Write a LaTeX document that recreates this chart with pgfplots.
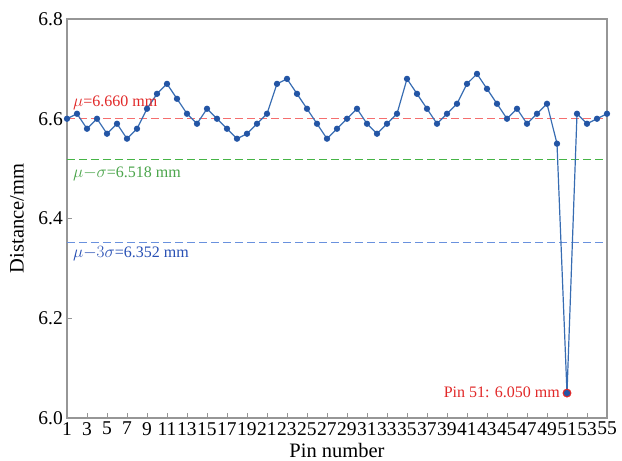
\documentclass[border=0pt]{standalone}
\usepackage{fontspec}
\setmainfont{Liberation Serif}
\usepackage{pgfplots}
\pgfplotsset{compat=1.18}
\definecolor{lineblue}{RGB}{55,108,178}
\definecolor{markblue}{RGB}{35,85,165}
\definecolor{dashred}{RGB}{245,110,110}
\definecolor{dashgreen}{RGB}{70,180,70}
\definecolor{dashblue}{RGB}{105,145,222}
\definecolor{txtred}{RGB}{225,40,40}
\definecolor{txtgreen}{RGB}{75,165,75}
\definecolor{txtblue}{RGB}{40,80,180}
\definecolor{framegray}{RGB}{150,150,150}
\begin{document}
\begin{tikzpicture}
\path[use as bounding box] (-67bp,-43bp) rectangle (555bp,418bp);
\begin{axis}[
  at={(0,0)}, anchor=south west,
  scale only axis, width=540bp, height=399bp,
  xmin=1, xmax=55, ymin=6.0, ymax=6.8,
  xtick={1,3,...,55}, ytick={6.0,6.2,6.4,6.6,6.8},
  tick align=inside, xtick pos=bottom, ytick pos=left,
  major tick length=5bp,
  axis line style={draw=framegray, line width=1.1bp},
  every tick/.style={framegray, line width=0.8bp},
  /pgf/number format/assume math mode=true,
  ticklabel style={font=\fontsize{19.5bp}{21bp}\selectfont, inner sep=0pt},
  xticklabel style={yshift=-4bp},
  yticklabel style={xshift=-4bp, /pgf/number format/.cd, fixed, fixed zerofill, precision=1},
  xlabel={Pin number}, ylabel={Distance/mm},
  label style={font=\fontsize{20.5bp}{22bp}\selectfont},
  xlabel style={at={(axis description cs:0.5,0)}, anchor=base, yshift=-39bp},
  ylabel style={at={(axis description cs:0,0.5)}, anchor=center, yshift=50bp},
  clip=false,
]
\addplot[dashred, line width=1.4bp, dash pattern=on 8bp off 4bp] coordinates {(1,6.6) (55,6.6)};
\addplot[dashgreen, line width=1.5bp, dash pattern=on 8bp off 4bp] coordinates {(1,6.518) (55,6.518)};
\addplot[dashblue, line width=1.4bp, dash pattern=on 8bp off 4bp] coordinates {(1,6.352) (55,6.352)};
\addplot[only marks, mark=*, mark size=4.2bp, mark options={fill=txtred, draw=txtred}] coordinates {(51,6.05)};
\addplot[lineblue, line width=1.2bp, mark=*, mark size=2.5bp, mark options={fill=markblue, draw=markblue}] table {
x y
1 6.60
2 6.61
3 6.58
4 6.60
5 6.57
6 6.59
7 6.56
8 6.58
9 6.62
10 6.65
11 6.67
12 6.64
13 6.61
14 6.59
15 6.62
16 6.60
17 6.58
18 6.56
19 6.57
20 6.59
21 6.61
22 6.67
23 6.68
24 6.65
25 6.62
26 6.59
27 6.56
28 6.58
29 6.60
30 6.62
31 6.59
32 6.57
33 6.59
34 6.61
35 6.68
36 6.65
37 6.62
38 6.59
39 6.61
40 6.63
41 6.67
42 6.69
43 6.66
44 6.63
45 6.60
46 6.62
47 6.59
48 6.61
49 6.63
50 6.55
51 6.05
52 6.61
53 6.59
54 6.60
55 6.61
};
\node[anchor=base west, text=txtred, font=\fontsize{16bp}{18bp}\selectfont, inner sep=0pt] at (axis cs:1.6,6.624) {$\mu$=6.660 mm};
\node[anchor=base west, text=txtgreen, font=\fontsize{16bp}{18bp}\selectfont, inner sep=0pt] at (axis cs:1.6,6.483) {$\mu{-}\sigma$=6.518 mm};
\node[anchor=base west, text=txtblue, font=\fontsize{16bp}{18bp}\selectfont, inner sep=0pt] at (axis cs:1.6,6.321) {$\mu{-}3\sigma$=6.352 mm};
\node[anchor=base east, text=txtred, font=\fontsize{16bp}{18bp}\selectfont, inner sep=0pt] at (axis cs:50.3,6.042) {Pin 51: 6.050 mm};
\end{axis}
\end{tikzpicture}
\end{document}
